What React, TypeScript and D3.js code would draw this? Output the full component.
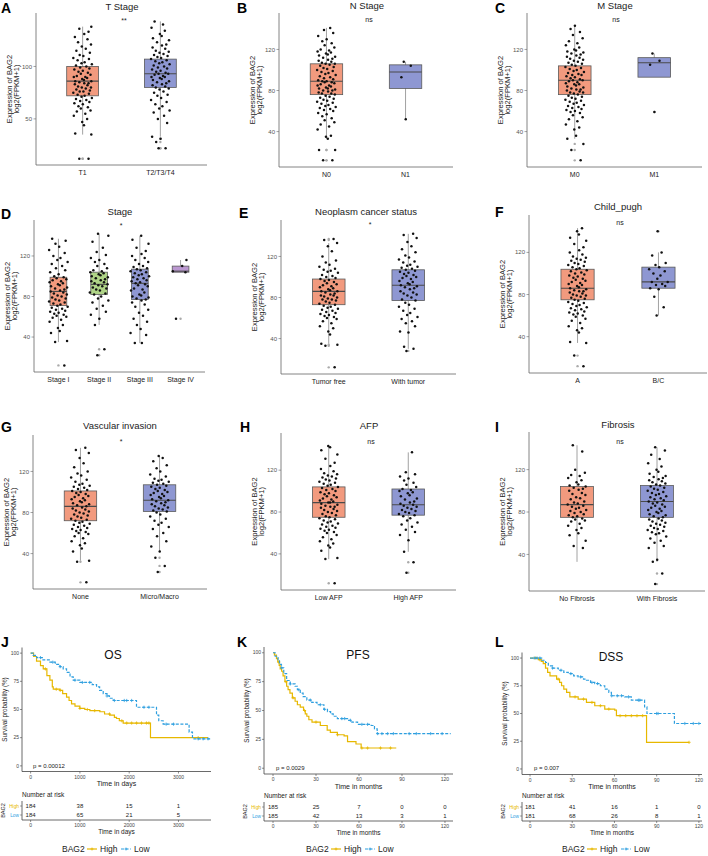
import React from 'react';
import * as d3 from 'd3';

const FONT = '"Liberation Sans", Arial, sans-serif';
const ORANGE = '#F29A7E';
const BLUE = '#8E97D2';
const GREEN = '#AFD487';
const PURPLE = '#BB98D1';
const YELLOW = '#E7B800';
const SKY = '#2E9FDF';

// fixed jitter offsets (fraction of half width), cycled over the points
const JITTER = [0.62, -0.35, 0.91, -0.78, 0.14, -0.05, 0.47, -0.93, 0.28, -0.61, 0.83, -0.19, 0.55, -0.44, 0.02, -0.87, 0.71, -0.26, 0.39, -0.7, 0.97, -0.12, 0.21, -0.53, 0.66, -0.98, 0.08, -0.31, 0.76, -0.66, 0.33, -0.09, 0.88, -0.48, 0.51, -0.82, 0.17];

// ---- box plot data (expression values) ----
const tStageCats = ['T1', 'T2/T3/T4'];
const tT1 = [12, 12, 35, 36, 44, 47, 50, 53, 55, 57, 58, 60, 61, 62, 64, 65, 66, 67, 68, 69, 70, 71, 72, 73, 74, 75, 76, 76, 77, 78, 79, 80, 80, 81, 82, 83, 84, 84, 85, 86, 86, 87, 88, 89, 90, 90, 91, 92, 93, 94, 95, 96, 97, 98, 99, 100, 101, 102, 103, 104, 106, 107, 108, 110, 111, 113, 115, 117, 119, 121, 123, 126, 128, 131, 133, 136, 138];
const tT234 = [22, 22, 28, 31, 33, 46, 50, 53, 56, 58, 60, 62, 64, 66, 68, 70, 72, 73, 75, 76, 78, 79, 80, 81, 82, 83, 84, 85, 86, 87, 88, 89, 90, 90, 91, 92, 93, 93, 94, 95, 96, 97, 98, 99, 100, 101, 102, 103, 104, 105, 106, 107, 108, 109, 110, 111, 112, 113, 114, 115, 117, 118, 120, 121, 123, 125, 127, 129, 131, 134, 137, 140, 143];
const tStageStats = [[35, 72, 86, 100, 138], [33, 80, 93, 107, 143]];

const nStageCats = ['N0', 'N1'];
const nN0 = [12, 12, 22, 22, 33, 35, 36, 42, 45, 47, 49, 51, 53, 55, 57, 58, 60, 61, 62, 63, 64, 65, 66, 67, 68, 69, 70, 71, 72, 73, 74, 75, 76, 77, 77, 78, 79, 80, 80, 81, 82, 82, 83, 84, 85, 85, 86, 87, 88, 88, 89, 89, 90, 91, 92, 93, 94, 95, 96, 97, 98, 99, 100, 101, 102, 103, 104, 105, 106, 106, 107, 108, 109, 110, 111, 112, 113, 114, 115, 116, 117, 118, 119, 120, 122, 124, 126, 128, 130, 133, 136, 139, 141];
const nN1 = [108, 104, 93, 52];
const nStageStats = [[33, 76, 89, 106, 141], [52, 82, 98, 105, 108]];

const mStageCats = ['M0', 'M1'];
const mM0 = [12, 22, 28, 33, 36, 42, 44, 47, 50, 52, 54, 56, 58, 59, 60, 61, 62, 63, 64, 65, 66, 67, 68, 69, 70, 71, 72, 73, 74, 75, 76, 77, 78, 78, 79, 80, 81, 81, 82, 83, 84, 85, 86, 86, 87, 88, 89, 90, 90, 91, 92, 93, 94, 95, 95, 96, 97, 98, 99, 100, 101, 102, 103, 104, 105, 106, 107, 108, 109, 110, 111, 112, 113, 114, 115, 116, 117, 118, 119, 120, 122, 124, 126, 128, 131, 134, 137, 140, 143];
const mM1 = [116, 109, 105, 59];
const mStageStats = [[33, 76, 90, 104, 143], [105, 93, 107, 112, 116]];

const stageCats = ['Stage I', 'Stage II', 'Stage III', 'Stage IV'];
const sI = [12, 35, 36, 44, 46, 49, 52, 55, 57, 59, 60, 61, 62, 63, 64, 65, 66, 67, 68, 69, 70, 71, 72, 73, 74, 75, 76, 77, 78, 79, 80, 81, 82, 83, 84, 85, 86, 87, 88, 89, 90, 91, 92, 93, 94, 95, 96, 97, 98, 99, 100, 102, 104, 106, 108, 110, 112, 114, 116, 118, 120, 123, 126, 129, 132, 135, 137];
const sII = [22, 28, 52, 58, 62, 65, 68, 71, 74, 76, 78, 80, 82, 83, 84, 86, 87, 88, 89, 90, 91, 92, 93, 94, 95, 96, 97, 98, 99, 100, 101, 102, 103, 104, 105, 106, 108, 110, 112, 114, 116, 118, 121, 124, 128, 134, 140, 142];
const sIII = [34, 34, 42, 44, 48, 52, 55, 58, 61, 64, 67, 70, 72, 74, 76, 77, 78, 79, 80, 81, 82, 84, 86, 87, 88, 90, 91, 92, 93, 94, 95, 96, 97, 98, 99, 100, 101, 102, 103, 104, 105, 106, 107, 108, 109, 110, 112, 114, 116, 118, 120, 122, 125, 128, 132, 136, 140];
const sIV = [58, 104, 105, 110, 116];
const stageStats = [[35, 71, 85, 99, 137], [52, 82, 92, 104, 142], [34, 77, 93, 107, 140], [104, 104, 105, 110, 116]];

const neoCats = ['Tumor free', 'With tumor'];
const neoFree = [12, 33, 34, 35, 44, 47, 50, 52, 55, 57, 59, 60, 61, 62, 63, 64, 65, 66, 67, 68, 69, 70, 71, 72, 73, 74, 75, 76, 77, 78, 78, 79, 80, 81, 82, 82, 83, 84, 85, 86, 86, 87, 88, 89, 90, 91, 92, 93, 94, 95, 96, 97, 98, 99, 100, 101, 102, 104, 105, 106, 107, 108, 110, 112, 114, 116, 120, 125, 130, 133, 136, 137];
const neoWith = [28, 30, 32, 46, 47, 52, 55, 57, 59, 61, 63, 65, 67, 69, 71, 73, 75, 77, 78, 80, 82, 83, 84, 85, 86, 88, 89, 90, 91, 92, 93, 94, 95, 96, 98, 99, 100, 101, 102, 103, 104, 105, 106, 107, 108, 109, 110, 111, 112, 114, 115, 117, 119, 121, 124, 127, 130, 134, 138, 141, 142];
const neoStats = [[35, 73, 86, 98, 133], [30, 77, 92, 107, 142]];

const childCats = ['A', 'B/C'];
const childA = [12, 22, 34, 35, 44, 46, 48, 50, 53, 55, 57, 59, 60, 61, 62, 63, 64, 65, 66, 67, 68, 69, 70, 71, 72, 73, 74, 75, 76, 77, 78, 79, 79, 80, 81, 82, 83, 83, 84, 85, 86, 87, 88, 89, 90, 91, 92, 93, 94, 95, 96, 97, 98, 99, 100, 101, 102, 103, 104, 105, 106, 107, 108, 109, 110, 111, 112, 113, 114, 115, 116, 118, 120, 122, 125, 128, 131, 134, 137, 140, 143];
const childBC = [60, 68, 78, 85, 86, 88, 89, 90, 92, 92, 95, 98, 100, 102, 104, 106, 108, 110, 117, 120, 140];
const childStats = [[34, 75, 86, 104, 143], [60, 86, 92, 106, 120]];

const vascCats = ['None', 'Micro/Macro'];
const vascNone = [12, 32, 33, 42, 45, 48, 50, 52, 55, 57, 59, 60, 61, 62, 63, 64, 65, 66, 67, 68, 69, 70, 71, 72, 73, 74, 75, 76, 77, 78, 79, 80, 81, 82, 83, 84, 85, 86, 87, 88, 89, 90, 91, 92, 93, 94, 95, 96, 97, 98, 99, 100, 101, 102, 103, 104, 105, 106, 107, 108, 110, 112, 114, 116, 118, 120, 124, 128, 133, 138, 141, 143];
const vascMicro = [22, 28, 36, 42, 47, 52, 57, 60, 64, 66, 68, 70, 72, 74, 76, 78, 80, 81, 82, 83, 84, 85, 86, 87, 88, 89, 90, 91, 92, 93, 94, 95, 96, 97, 98, 99, 100, 101, 102, 103, 104, 105, 106, 107, 108, 109, 110, 111, 112, 113, 115, 117, 120, 123, 126, 130, 133, 135];
const vascStats = [[33, 72, 86, 101, 143], [42, 81, 92, 107, 135]];

const afpCats = ['Low AFP', 'High AFP'];
const afpLow = [12, 35, 36, 43, 46, 48, 50, 52, 54, 56, 58, 60, 61, 62, 63, 64, 65, 66, 67, 68, 69, 70, 71, 72, 73, 74, 75, 76, 77, 78, 79, 80, 81, 82, 83, 84, 85, 85, 86, 87, 88, 89, 89, 90, 91, 92, 93, 94, 95, 96, 97, 98, 99, 100, 101, 102, 103, 104, 105, 106, 107, 108, 109, 110, 111, 112, 113, 114, 115, 116, 117, 119, 121, 124, 127, 131, 135, 139, 142, 143];
const afpHigh = [22, 32, 42, 53, 58, 61, 63, 66, 68, 70, 72, 74, 76, 77, 78, 79, 80, 81, 82, 83, 84, 85, 86, 87, 88, 89, 90, 92, 93, 95, 96, 98, 99, 100, 101, 102, 104, 106, 108, 110, 112, 114, 116, 118, 137];
const afpStats = [[35, 75, 89, 104, 143], [42, 77, 87, 102, 137]];

const fibCats = ['No Fibrosis', 'With Fibrosis'];
const fibNo = [46, 48, 53, 58, 60, 63, 65, 67, 69, 71, 72, 73, 74, 75, 76, 77, 78, 79, 80, 81, 82, 83, 84, 85, 86, 87, 88, 89, 90, 92, 93, 94, 96, 97, 98, 100, 101, 102, 103, 104, 105, 106, 108, 110, 112, 114, 115, 117, 120, 137, 143];
const fibWith = [12, 22, 33, 35, 46, 48, 51, 53, 55, 57, 59, 60, 61, 62, 63, 64, 65, 66, 67, 68, 69, 70, 71, 72, 73, 74, 75, 76, 77, 78, 79, 80, 81, 82, 83, 84, 85, 86, 87, 88, 89, 90, 91, 92, 93, 94, 95, 96, 97, 98, 99, 100, 101, 102, 103, 104, 105, 106, 107, 108, 109, 110, 111, 112, 113, 114, 116, 118, 120, 123, 126, 130, 134, 138, 141];
const fibStats = [[33, 75, 87, 104, 143], [33, 75, 90, 105, 141]];

const ticks50 = [50, 100];
const ticks40 = [40, 80, 120];

// ---- survival curves [time, survival %] ----
const osHigh = [[0, 100], [60, 97], [120, 93], [200, 89], [256, 86], [330, 80], [391, 76], [440, 70], [459, 68], [594, 67], [650, 64], [729, 61], [780, 58], [830, 55], [900, 53], [999, 51], [1100, 50], [1202, 49], [1405, 48], [1500, 46], [1608, 45], [1700, 43], [1743, 42], [1800, 40], [1878, 38], [2432, 25], [3600, 25]];
const osLow = [[0, 100], [50, 98], [122, 96], [250, 94], [392, 92], [500, 90], [594, 88], [660, 86], [729, 83], [800, 79], [864, 76], [999, 74], [1250, 72], [1338, 70], [1400, 67], [1473, 64], [1550, 62], [1600, 60], [1676, 58], [2148, 52], [2554, 45], [2600, 40], [2689, 37], [3216, 30], [3284, 24], [3660, 24]];
const osHighCens = [300, 520, 600, 1000, 1150, 1300, 1600, 1850, 1950, 2050, 2150, 2250, 2350, 2400, 3400];
const osLowCens = [200, 450, 600, 900, 1050, 1200, 1550, 1700, 1900, 1950, 2050, 2300, 2400, 2750, 2900, 3400, 3500, 3600];

const pfsHigh = [[0, 100], [1, 98], [2.4, 95], [3.3, 92], [4.3, 89], [5, 86], [6, 84], [7, 80], [8.3, 75], [9.5, 71], [10.5, 68], [11.8, 65], [13.5, 61], [15.4, 58], [17, 55], [19, 53], [21.3, 50], [22.5, 47], [23.6, 45], [25, 42], [27.2, 40], [33, 37], [37.8, 33], [40, 31], [44.9, 29], [49.6, 28], [52, 23], [57.9, 21], [61.5, 17.5], [86, 17.5]];
const pfsLow = [[0, 100], [1.5, 97], [3.5, 94], [4.5, 90], [5.9, 87], [7.5, 82], [9.5, 76], [12, 73], [15.4, 71], [17, 68], [19, 65], [21, 62], [23.6, 59], [27, 57], [30.7, 55], [35.5, 51], [38, 49], [40.2, 47], [42, 45], [44.9, 43], [52, 41.5], [55, 40], [59, 38], [68.5, 37], [70.8, 34], [72.7, 30], [124, 30]];
const pfsHighCens = [4, 9, 14, 22, 30, 45, 62, 66, 75, 82];
const pfsLowCens = [6, 12, 18, 26, 33, 36, 48, 50, 54, 62, 66, 73, 76, 80, 84, 95, 100, 110, 118];

const dssHigh = [[0, 100], [5.9, 98.5], [8, 97], [9.4, 95], [11, 91], [12.5, 87], [14.2, 84], [18.9, 81], [21, 78], [22.4, 75], [24, 72], [26, 69], [28.3, 65], [34.2, 63], [40.1, 60], [46, 57], [53.1, 54], [60.2, 53], [61.4, 48], [82.8, 24], [113, 24]];
const dssLow = [[0, 100], [8.3, 98], [11, 96], [13, 93], [16, 91], [20.1, 89], [24, 87], [27.2, 86], [31, 84], [34.2, 83], [38, 81], [40.1, 80], [43, 78], [46, 77], [50, 75], [53.1, 72], [56, 69], [57.8, 66], [67.3, 65], [72, 62], [81.4, 56], [83.1, 50], [101.5, 50], [102.6, 41], [121.5, 41]];
const dssHighCens = [4, 7, 20, 32, 38, 44, 50, 56, 64, 68, 72, 76, 80, 113];
const dssLowCens = [3, 5, 7, 16, 22, 29, 36, 44, 48, 58, 62, 65, 70, 77, 78, 90, 91, 110, 116, 120];

// number at risk
const osRiskTimes = [0, 1000, 2000, 3000];
const osRiskHigh = [184, 38, 15, 1];
const osRiskLow = [184, 65, 21, 5];
const monthTicks = [0, 30, 60, 90, 120];
const pfsRiskHigh = [185, 25, 7, 0, 0];
const pfsRiskLow = [185, 42, 13, 3, 1];
const dssRiskHigh = [181, 41, 16, 1, 0];
const dssRiskLow = [181, 68, 26, 8, 1];
const pctTicks = [0, 25, 50, 75, 100];

function BoxPanel(p) {
  const x = d3.scalePoint().domain(p.cats).range([p.x0, p.x1]).padding(0.6);
  const y = d3.scaleLinear().domain(p.domain).range([p.y1, p.y0]);
  const bw = x.step() * 0.41;
  const midY = (p.y0 + p.y1) / 2;
  return (
    <g fontFamily={FONT}>
      <text x={p.lx} y={p.ly} fontSize={14} fontWeight="bold">{p.letter}</text>
      <text x={p.tx} y={p.ty} fontSize={9.5} textAnchor="middle" fill="#222">{p.title}</text>
      <text x={p.sx} y={p.sy} fontSize={7} textAnchor="middle" fill="#222">{p.sig}</text>
      <line x1={p.x0} x2={p.x0} y1={p.y0} y2={p.y1} stroke="#666" strokeWidth={0.8} />
      <line x1={p.x0} x2={p.x1} y1={p.y1} y2={p.y1} stroke="#666" strokeWidth={0.8} />
      {p.ticks.map((t) => (
        <g key={t}>
          <line x1={p.x0 - 2.5} x2={p.x0} y1={y(t)} y2={y(t)} stroke="#666" strokeWidth={0.6} />
          <text x={p.x0 - 4} y={y(t) + 2.1} fontSize={6} textAnchor="end" fill="#555">{t}</text>
        </g>
      ))}
      <g transform={`translate(${p.x0 - 24.5},${midY}) rotate(-90)`}>
        <text fontSize={7.6} textAnchor="middle" fill="#222">Expression of BAG2</text>
      </g>
      <g transform={`translate(${p.x0 - 17.3},${midY}) rotate(-90)`}>
        <text fontSize={7.6} textAnchor="middle" fill="#222">log2(FPKM+1)</text>
      </g>
      {p.cats.map((c, i) => {
        const cx = x(c);
        const [lo, q1, med, q3, hi] = p.stats[i];
        const vals = p.groups[i];
        return (
          <g key={c}>
            <line x1={cx} x2={cx} y1={y(hi)} y2={y(lo)} stroke="#8a8a8a" strokeWidth={0.8} />
            <rect x={cx - bw / 2} y={y(q3)} width={bw} height={y(q1) - y(q3)} fill={p.colors[i]} stroke="#5a5a5a" strokeWidth={0.8} />
            <line x1={cx - bw / 2} x2={cx + bw / 2} y1={y(med)} y2={y(med)} stroke="#4a4a4a" strokeWidth={1.1} />
            {vals.filter((v) => v < lo || v > hi).map((v, j) => (
              <circle key={'o' + j} cx={cx} cy={y(v)} r={1.2} fill="#aaa" />
            ))}
            {vals.map((v, j) => (
              <circle key={j} cx={cx + JITTER[(j + i * 11) % JITTER.length] * 9.5} cy={y(v)} r={1.25} fill="#111" />
            ))}
            <text x={cx} y={p.y1 + 9.5} fontSize={7} textAnchor="middle" fill="#222">{c}</text>
          </g>
        );
      })}
    </g>
  );
}

function survAt(data, t) {
  let s = data[0][1];
  for (const d of data) if (d[0] <= t) s = d[1];
  return s;
}

function KmPanel(p) {
  const x = d3.scaleLinear().domain(p.xDomain).range([p.x0, p.x1]);
  const y = d3.scaleLinear().domain([-5, 105]).range([p.y1, p.y0]);
  const line = d3.line().x((d) => x(d[0])).y((d) => y(d[1])).curve(d3.curveStepAfter);
  const curves = [
    { data: p.high, cens: p.highCens, color: YELLOW, dash: null },
    { data: p.low, cens: p.lowCens, color: SKY, dash: '3,1.6' },
  ];
  const midY = (p.y0 + p.y1) / 2;
  const rowH = p.riskY + 9;
  const rowL = p.riskY + 18;
  const rAxis = p.riskY + 23;
  const lg = p.legendX;
  const ly = 849;
  return (
    <g fontFamily={FONT}>
      <text x={p.lx} y={p.ly} fontSize={14} fontWeight="bold">{p.letter}</text>
      <text x={p.tx} y={p.ty} fontSize={12} textAnchor="middle" fill="#111">{p.title}</text>
      <line x1={p.x0} x2={p.x0} y1={p.y0} y2={p.y1} stroke="#444" strokeWidth={0.8} />
      <line x1={p.x0} x2={p.x1} y1={p.y1} y2={p.y1} stroke="#444" strokeWidth={0.8} />
      {pctTicks.map((t) => (
        <g key={t}>
          <line x1={p.x0 - 2} x2={p.x0} y1={y(t)} y2={y(t)} stroke="#444" strokeWidth={0.6} />
          <text x={p.x0 - 3} y={y(t) + 1.7} fontSize={5} textAnchor="end" fill="#444">{t}</text>
        </g>
      ))}
      {p.xTicks.map((t) => (
        <g key={t}>
          <line x1={x(t)} x2={x(t)} y1={p.y1} y2={p.y1 + 2} stroke="#444" strokeWidth={0.6} />
          <text x={x(t)} y={p.y1 + 7} fontSize={5} textAnchor="middle" fill="#444">{t}</text>
        </g>
      ))}
      <text x={(p.x0 + p.x1) / 2} y={p.y1 + 14.5} fontSize={7} textAnchor="middle" fill="#222">{p.xLabel}</text>
      <g transform={`translate(${p.x0 - 15},${midY}) rotate(-90)`}>
        <text fontSize={6.3} textAnchor="middle" fill="#222">Survival probability (%)</text>
      </g>
      {curves.map((c, i) => (
        <g key={i}>
          <path d={line(c.data)} fill="none" stroke={c.color} strokeWidth={1.2} strokeDasharray={c.dash || undefined} />
          {c.cens.map((t, j) => {
            const cx = x(t);
            const cy = y(survAt(c.data, t));
            return (
              <path key={j} d={`M${cx - 1.6},${cy}H${cx + 1.6}M${cx},${cy - 1.6}V${cy + 1.6}`} stroke={c.color} strokeWidth={0.8} />
            );
          })}
        </g>
      ))}
      <text x={p.px} y={p.py} fontSize={6} fill="#222">{p.pText}</text>

      <text x={p.x0} y={p.riskY} fontSize={6.5} fill="#222">Number at risk</text>
      <line x1={p.x0} x2={p.x0} y1={p.riskY + 4} y2={rAxis} stroke="#444" strokeWidth={0.8} />
      <line x1={p.x0} x2={p.x1} y1={rAxis} y2={rAxis} stroke="#444" strokeWidth={0.8} />
      <text x={p.x0 - 3} y={rowH + 1.7} fontSize={4.8} textAnchor="end" fill={YELLOW}>High</text>
      <text x={p.x0 - 3} y={rowL + 1.7} fontSize={4.8} textAnchor="end" fill={SKY}>Low</text>
      <line x1={p.x0 - 2} x2={p.x0} y1={rowH} y2={rowH} stroke="#444" strokeWidth={0.5} />
      <line x1={p.x0 - 2} x2={p.x0} y1={rowL} y2={rowL} stroke="#444" strokeWidth={0.5} />
      <g transform={`translate(${p.bx},${(rowH + rowL) / 2}) rotate(-90)`}>
        <text fontSize={5.5} textAnchor="middle" fill="#222">BAG2</text>
      </g>
      {p.xTicks.map((t, i) => (
        <g key={'r' + t}>
          <text x={x(t)} y={rowH + 2} fontSize={6} textAnchor="middle" fill="#222">{p.riskHigh[i]}</text>
          <text x={x(t)} y={rowL + 2} fontSize={6} textAnchor="middle" fill="#222">{p.riskLow[i]}</text>
          <line x1={x(t)} x2={x(t)} y1={rAxis} y2={rAxis + 2} stroke="#444" strokeWidth={0.6} />
          <text x={x(t)} y={rAxis + 7} fontSize={5} textAnchor="middle" fill="#444">{t}</text>
        </g>
      ))}
      <text x={(p.x0 + p.x1) / 2} y={rAxis + 13.5} fontSize={6.5} textAnchor="middle" fill="#222">{p.xLabel}</text>

      <text x={lg} y={ly + 3} fontSize={8.5} fill="#222">BAG2</text>
      <line x1={lg + 25} x2={lg + 35} y1={ly} y2={ly} stroke={YELLOW} strokeWidth={1.2} />
      <path d={`M${lg + 28.5},${ly}H${lg + 31.5}M${lg + 30},${ly - 1.5}V${ly + 1.5}`} stroke={YELLOW} strokeWidth={0.8} />
      <text x={lg + 38} y={ly + 3} fontSize={8.5} fill="#222">High</text>
      <line x1={lg + 59} x2={lg + 69} y1={ly} y2={ly} stroke={SKY} strokeWidth={1.2} strokeDasharray="3,1.6" />
      <path d={`M${lg + 62.5},${ly}H${lg + 65.5}M${lg + 64},${ly - 1.5}V${ly + 1.5}`} stroke={SKY} strokeWidth={0.8} />
      <text x={lg + 72} y={ly + 3} fontSize={8.5} fill="#222">Low</text>
    </g>
  );
}

export default function App() {
  const D = [5.5, 155.5];
  return (
    <svg width={708} height={856} style={{ position: 'absolute', left: 0, top: 0, background: '#fff' }}>
      <rect width={708} height={856} fill="#fff" />
      <BoxPanel letter="A" lx={1} ly={13} title="T Stage" tx={122} ty={10} sig="**" sx={124} sy={23}
        x0={36} x1={207} y0={13} y1={165} domain={[6, 151]} ticks={ticks50}
        cats={tStageCats} groups={[tT1, tT234]} stats={tStageStats} colors={[ORANGE, BLUE]} />
      <BoxPanel letter="B" lx={237} ly={13} title="N Stage" tx={367} ty={9} sig="ns" sx={369} sy={22}
        x0={279} x1={453} y0={13} y1={167} domain={D} ticks={ticks40}
        cats={nStageCats} groups={[nN0, nN1]} stats={nStageStats} colors={[ORANGE, BLUE]} />
      <BoxPanel letter="C" lx={495} ly={13} title="M Stage" tx={615} ty={9} sig="ns" sx={616} sy={22}
        x0={527} x1={702} y0={13} y1={167} domain={D} ticks={ticks40}
        cats={mStageCats} groups={[mM0, mM1]} stats={mStageStats} colors={[ORANGE, BLUE]} />

      <BoxPanel letter="D" lx={1} ly={219} title="Stage" tx={120} ty={215} sig="*" sx={121} sy={228}
        x0={34} x1={205} y0={220} y1={372} domain={D} ticks={ticks40}
        cats={stageCats} groups={[sI, sII, sIII, sIV]} stats={stageStats} colors={[ORANGE, GREEN, BLUE, PURPLE]} />
      <BoxPanel letter="E" lx={239} ly={218} title="Neoplasm cancer status" tx={366} ty={215} sig="*" sx={370} sy={227}
        x0={281} x1={456} y0={220} y1={374} domain={D} ticks={ticks40}
        cats={neoCats} groups={[neoFree, neoWith]} stats={neoStats} colors={[ORANGE, BLUE]} />
      <BoxPanel letter="F" lx={495} ly={217} title="Child_pugh" tx={618} ty={210} sig="ns" sx={620} sy={225}
        x0={529} x1={707} y0={215} y1={373} domain={D} ticks={ticks40}
        cats={childCats} groups={[childA, childBC]} stats={childStats} colors={[ORANGE, BLUE]} />

      <BoxPanel letter="G" lx={1} ly={432} title="Vascular invasion" tx={120} ty={429} sig="*" sx={121} sy={444}
        x0={33} x1={207} y0={435} y1={589} domain={D} ticks={ticks40}
        cats={vascCats} groups={[vascNone, vascMicro]} stats={vascStats} colors={[ORANGE, BLUE]} />
      <BoxPanel letter="H" lx={240} ly={432} title="AFP" tx={369} ty={429} sig="ns" sx={371} sy={444}
        x0={281} x1={456} y0={433} y1={590} domain={D} ticks={ticks40}
        cats={afpCats} groups={[afpLow, afpHigh]} stats={afpStats} colors={[ORANGE, BLUE]} />
      <BoxPanel letter="I" lx={495} ly={432} title="Fibrosis" tx={618} ty={428} sig="ns" sx={620} sy={444}
        x0={529} x1={705} y0={432} y1={591} domain={D} ticks={ticks40}
        cats={fibCats} groups={[fibNo, fibWith]} stats={fibStats} colors={[ORANGE, BLUE]} />

      <KmPanel letter="J" lx={1} ly={647} title="OS" tx={113} ty={659}
        x0={22} x1={211} y0={647.5} y1={771.5} xDomain={[-175, 3660]} xTicks={osRiskTimes}
        high={osHigh} low={osLow} highCens={osHighCens} lowCens={osLowCens}
        pText="p = 0.00012" px={33} py={768} xLabel="Time in days" riskY={797} bx={5}
        riskHigh={osRiskHigh} riskLow={osRiskLow} legendX={62} />
      <KmPanel letter="K" lx={237} ly={647} title="PFS" tx={358} ty={659}
        x0={264} x1={453} y0={647} y1={774} xDomain={[-6.3, 125.6]} xTicks={monthTicks}
        high={pfsHigh} low={pfsLow} highCens={pfsHighCens} lowCens={pfsLowCens}
        pText="p = 0.0029" px={276} py={770} xLabel="Time in months" riskY={798} bx={247}
        riskHigh={pfsRiskHigh} riskLow={pfsRiskLow} legendX={306} />
      <KmPanel letter="L" lx={495} ly={647} title="DSS" tx={611} ty={661}
        x0={522} x1={702} y0={652.5} y1={774.5} xDomain={[-5.7, 122.2]} xTicks={monthTicks}
        high={dssHigh} low={dssLow} highCens={dssHighCens} lowCens={dssLowCens}
        pText="p = 0.007" px={534} py={770} xLabel="Time in months" riskY={798} bx={505}
        riskHigh={dssRiskHigh} riskLow={dssRiskLow} legendX={562} />
    </svg>
  );
}
